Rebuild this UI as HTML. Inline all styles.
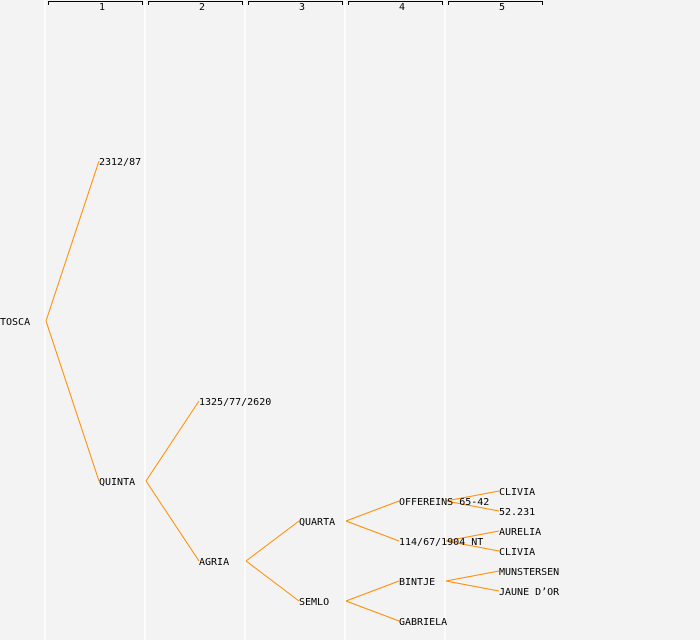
<!DOCTYPE html>
<html><head><style>
body{margin:0;background:#f3f3f3}
svg{display:block}
text{font-family:"DejaVu Sans Mono","Liberation Mono",monospace;font-size:10px;fill:#000}
</style></head><body>
<svg width="700" height="640" xmlns="http://www.w3.org/2000/svg">
<rect width="700" height="640" fill="#f3f3f3"/>
<g stroke="#fff" stroke-width="1.5">
<line x1="45" y1="0" x2="45" y2="640"/><line x1="145" y1="0" x2="145" y2="640"/>
<line x1="245" y1="0" x2="245" y2="640"/><line x1="345" y1="0" x2="345" y2="640"/>
<line x1="445" y1="0" x2="445" y2="640"/>
</g>
<g stroke="#000" stroke-width="1" fill="none">
<path d="M48.5 5V1.5H142.5V5"/><path d="M148.5 5V1.5H242.5V5"/><path d="M248.5 5V1.5H342.5V5"/><path d="M348.5 5V1.5H442.5V5"/><path d="M448.5 5V1.5H542.5V5"/>
</g>
<g text-anchor="middle" style="font-size:8px">
<text x="102" y="10">1</text><text x="202" y="10">2</text><text x="302" y="10">3</text><text x="402" y="10">4</text><text x="502" y="10">5</text>
</g>
<g stroke="#ff8c00" stroke-width="1" fill="none">
<path d="M46 321L99 161M46 321L99 481"/>
<path d="M146 481L199 401M146 481L199 561"/>
<path d="M246 561L299 521M246 561L299 601"/>
<path d="M346 521L399 501M346 521L399 541"/>
<path d="M346 601L399 581M346 601L399 621"/>
<path d="M446 501L499 491M446 501L499 511"/>
<path d="M446 541L499 531M446 541L499 551"/>
<path d="M446 581L499 571M446 581L499 591"/>
</g>
<g>
<text x="0" y="325">TOSCA</text>
<text x="99" y="165">2312/87</text>
<text x="99" y="485">QUINTA</text>
<text x="199" y="405">1325/77/2620</text>
<text x="199" y="565">AGRIA</text>
<text x="299" y="525">QUARTA</text>
<text x="299" y="605">SEMLO</text>
<text x="399" y="505">OFFEREINS 65-42</text>
<text x="399" y="545">114/67/1904 NT</text>
<text x="399" y="585">BINTJE</text>
<text x="399" y="625">GABRIELA</text>
<text x="499" y="495">CLIVIA</text>
<text x="499" y="515">52.231</text>
<text x="499" y="535">AURELIA</text>
<text x="499" y="555">CLIVIA</text>
<text x="499" y="575">MUNSTERSEN</text>
<text x="499" y="595">JAUNE D’OR</text>
</g>
</svg>
</body></html>
